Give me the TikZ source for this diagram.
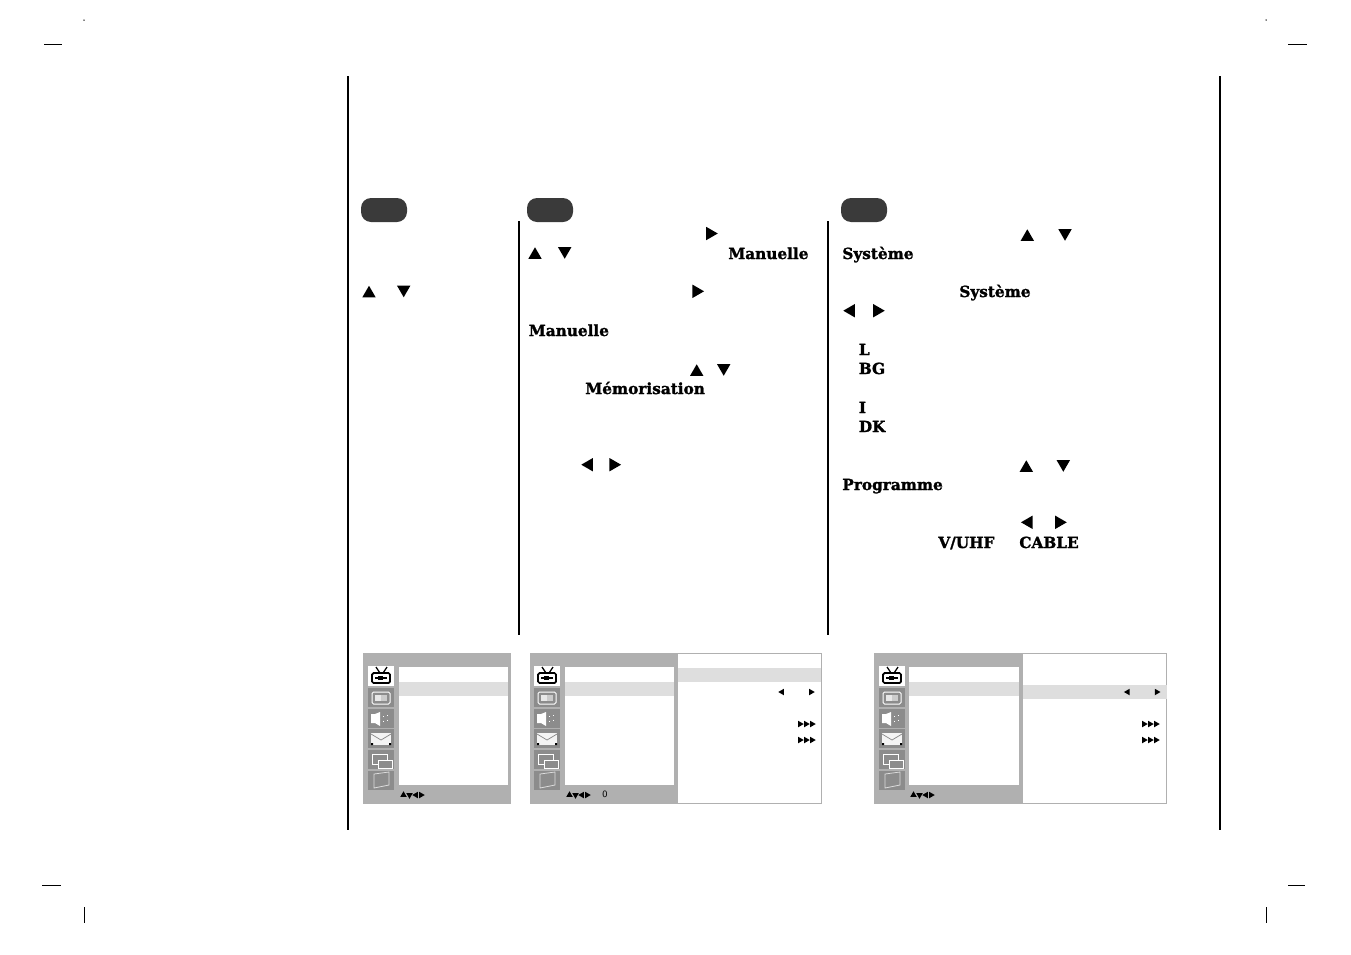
\documentclass[tikz,border=0pt]{standalone}
\usepackage{fontspec}
\setmainfont{DejaVu Serif}[BoldFeatures={FakeBold=1.6}]
\usetikzlibrary{shapes.geometric}
\definecolor{osdgray}{HTML}{B0B0B0}
\definecolor{osdlight}{HTML}{DEDEDE}
\definecolor{osdicon}{HTML}{8C8C8C}
\definecolor{pillgray}{HTML}{3A3A3A}
\tikzstyle{pill} = [rectangle, minimum width=0.92cm, minimum height=0.48cm, rounded corners=0.2cm, fill=pillgray, inner sep=0pt]
\tikzstyle{label} = [anchor=base west, inner sep=0pt, font=\bfseries\fontsize{8.7}{10}\selectfont]
\tikzstyle{tri} = [regular polygon, regular polygon sides=3, fill=black, inner sep=0pt, minimum size=0.31cm]
\tikzstyle{triup} = [tri, yshift=-0.04cm]
\tikzstyle{tridown} = [tri, shape border rotate=180, yshift=0.04cm]
\tikzstyle{trileft} = [tri, shape border rotate=90, xshift=0.04cm]
\tikzstyle{triright} = [tri, shape border rotate=-90, xshift=-0.04cm]
\tikzstyle{mini} = [regular polygon, regular polygon sides=3, fill=black, inner sep=0pt, minimum size=0.15cm]
\tikzstyle{miniup} = [mini]
\tikzstyle{minidown} = [mini, shape border rotate=180]
\tikzstyle{minileft} = [mini, shape border rotate=90]
\tikzstyle{miniright} = [mini, shape border rotate=-90]
\tikzstyle{rule} = [line width=0.04cm]
\tikzstyle{crop} = [line width=0.02cm]
\tikzstyle{iconline} = [white, line width=0.02cm]
\tikzset{
    pics/osdicons/.style={code={
        % white television box, then five grey boxes
        \fill [white] (0,0) rectangle (26,20);
        \foreach \ytop in {22,43,63,84,105}
            \fill [osdicon] (0,\ytop) rectangle (26,\ytop+19);
        \draw [line width=0.035cm, rounded corners=0.03cm] (4,7) rectangle (22,17);
        \draw [line width=0.025cm] (8,1) -- (12,7) (19,1) -- (15,7);
        \draw [line width=0.05cm] (7,12) -- (19,12);
        \fill (10,10) rectangle (15,14);
        \draw [iconline, rounded corners=0.03cm] (4,26) rectangle (22,38);
        \fill [white!80!osdicon] (7,29) rectangle (13,35);
        \fill [white!55!osdicon] (13,29) rectangle (19,35);
        \fill [white] (3,48) rectangle (7,57) -- (12,60) -- (12,46) -- (7,48);
        \draw [iconline, dotted] (15,50) -- (15,55) (19,49) -- (19,56);
        \fill [white!90!osdicon] (3,67) rectangle (23,79);
        \draw [osdicon, line width=0.015cm] (3,68) -- (13,74) -- (23,68);
        \fill (3,77) rectangle (5,79) (21,77) rectangle (23,79);
        \draw [iconline] (4,88) rectangle (19,98) (10,94) rectangle (24,102);
        \fill [osdicon] (11,95) rectangle (23,101);
        \draw [white!70!osdicon, line width=0.015cm] (6,108) -- (21,106) -- (21,119) -- (6,122) -- cycle;
    }},
    pics/osdarrows/.style={code={
        \node (up) [miniup] at (2.5,0) {};
        \node (down) [minidown] at (8.5,0) {};
        \node (left) [minileft] at (15,0) {};
        \node (right) [miniright] at (20,0) {};
    }},
    pics/osdtriple/.style={code={
        \foreach \xpos in {3,9,15}
            \node [mini, shape border rotate=-90] at (\xpos,0) {};
    }}
}

\begin{document}
\begin{tikzpicture}[x=0.02cm, y=-0.02cm]
    \useasboundingbox (0,0) rectangle (1351,954);
    % crop marks
    \draw [crop] (44,44) -- (62,44);
    \draw [crop] (1288,44) -- (1307,44);
    \draw [crop] (42,885) -- (61,885);
    \draw [crop] (1288,885) -- (1305,885);
    \draw [crop] (84,907) -- (84,923);
    \draw [crop] (1266,907) -- (1266,923);
    \fill (84,20) circle (0.015cm);
    \fill (1266,20) circle (0.015cm);
    % page and column rules
    \draw [line width=0.025cm] (348,76) -- (348,830);
    \draw [rule] (1220,76) -- (1220,830);
    \draw [rule] (519,221) -- (519,635);
    \draw [rule] (828,221) -- (828,635);
    \node (pilla) [pill] at (384,210) {};
    \node (pillb) [pill] at (550,210) {};
    \node (pillc) [pill] at (864,210) {};
    % first column
    \node (upa) [triup] at (369,291.5) {};
    \node (downa) [tridown] at (403.7,291.5) {};
    % second column
    \node (rightb) [triright] at (712,233.5) {};
    \node (upb) [triup] at (535,253) {};
    \node (downb) [tridown] at (564.7,253) {};
    \node (manuellea) [label] at (728,259) {Manuelle};
    \node (rightc) [triright] at (698.3,291.3) {};
    \node (manuelleb) [label] at (528.5,336) {Manuelle};
    \node (upc) [triup] at (696.7,370) {};
    \node (downc) [tridown] at (723.7,370) {};
    \node (memo) [label] at (585,394) {Mémorisation};
    \node (leftb) [trileft] at (587,464.7) {};
    \node (rightd) [triright] at (615.3,464.7) {};
    % third column
    \node (upd) [triup] at (1027.3,235) {};
    \node (downd) [tridown] at (1065,235) {};
    \node (systemea) [label] at (842,259) {Système};
    \node (systemeb) [label] at (959,297) {Système};
    \node (leftc) [trileft] at (849,310.7) {};
    \node (righte) [triright] at (879,310.7) {};
    \node (syl) [label] at (858.5,355) {L};
    \node (sybg) [label] at (858.5,374) {BG};
    \node (syi) [label] at (858.5,413) {I};
    \node (sydk) [label] at (858.5,432) {DK};
    \node (upe) [triup] at (1026.3,466) {};
    \node (downe) [tridown] at (1063.3,466) {};
    \node (programme) [label] at (842,490) {Programme};
    \node (leftd) [trileft] at (1026.7,522.3) {};
    \node (rightf) [triright] at (1061,522.3) {};
    \node (vuhf) [label] at (938,548) {V/UHF};
    \node (cable) [label] at (1019,548) {CABLE};
    % first menu
    \fill [osdgray] (363,653) rectangle (511,804);
    \fill [white] (399,667) rectangle (508,785);
    \fill [osdlight] (399,682) rectangle (508,696);
    \pic at (368,666) {osdicons};
    \pic at (401,795) {osdarrows};
    % second menu
    \fill [white] (678,654) rectangle (821.5,803.5);
    \draw [osdgray, line width=0.02cm] (530,653.5) rectangle (821.5,803.5);
    \fill [osdgray] (530,653) rectangle (678,804);
    \fill [white] (565,667) rectangle (674,785);
    \fill [osdlight] (565,682) rectangle (674,696);
    \fill [osdlight] (678,668) rectangle (821,682);
    \pic at (534,666) {osdicons};
    \pic at (567,795) {osdarrows};
    \node (zero) [inner sep=0pt, font=\sffamily\fontsize{5.5}{6}\selectfont] at (605,794.5) {0};
    \node (minia) [minileft] at (782,692) {};
    \node (minib) [miniright] at (811,692) {};
    \pic at (797,724) {osdtriple};
    \pic at (797,740) {osdtriple};
    % third menu
    \draw [osdgray, line width=0.02cm] (874,653.5) rectangle (1166.7,803.5);
    \fill [osdgray] (874,653) rectangle (1023,804);
    \fill [white] (909,667) rectangle (1019,785);
    \fill [osdlight] (909,682) rectangle (1019,696);
    \fill [osdlight] (1023,685) rectangle (1166.5,699);
    \pic at (879,666) {osdicons};
    \pic at (911,795) {osdarrows};
    \node (minic) [minileft] at (1127.7,692) {};
    \node (minid) [miniright] at (1156.7,692) {};
    \pic at (1141,724) {osdtriple};
    \pic at (1141,740) {osdtriple};
\end{tikzpicture}
\end{document}
